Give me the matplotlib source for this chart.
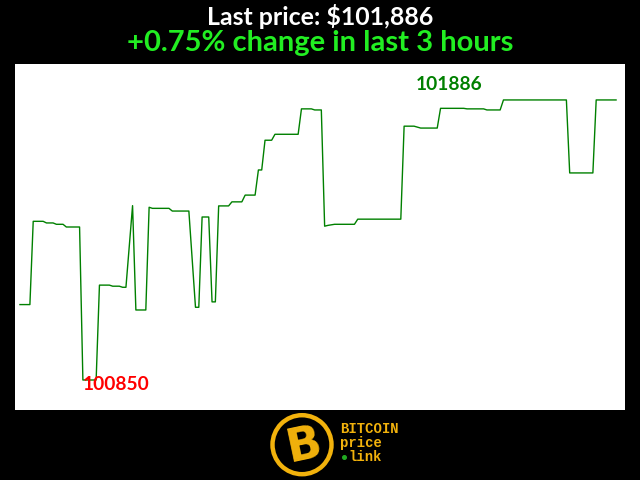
import matplotlib
matplotlib.use("Agg")
import matplotlib.pyplot as plt
from matplotlib.patches import Circle

# Data: minutes since start (last 3 hours) and BTC price at line vertices
minutes = [0, 3, 4, 7, 8, 10, 11, 13, 14, 18, 19, 23, 24, 27, 28, 30, 31, 32, 34, 35, 38,
           39, 40, 45, 46, 51, 53, 54, 55, 57, 58, 59, 60, 63, 64, 67, 68, 71, 72, 73, 74,
           76, 77, 84, 85, 88, 89, 91, 92, 93, 95, 101, 102, 115, 116, 119, 121, 126, 127,
           134, 135, 140, 141, 145, 146, 165, 166, 173, 174, 180]
prices = [101129, 101129, 101437, 101437, 101431, 101431, 101426, 101426, 101416, 101416,
          100850, 100850, 101201, 101201, 101197, 101197, 101193, 101193, 101495, 101109,
          101109, 101489, 101485, 101485, 101475, 101475, 101119, 101119, 101453, 101453,
          101139, 101139, 101494, 101494, 101509, 101509, 101534, 101534, 101627, 101627,
          101737, 101737, 101759, 101759, 101853, 101853, 101849, 101849, 101419, 101422,
          101426, 101426, 101445, 101445, 101789, 101789, 101782, 101782, 101855, 101855,
          101853, 101853, 101849, 101849, 101886, 101886, 101616, 101616, 101886, 101886]

last_price = 101886
pct_change = 0.75
min_price = 100850
max_price = 101886

FONT = ["Lato", "DejaVu Sans"]

fig = plt.figure(figsize=(6.4, 4.8), dpi=100, facecolor="black")
ax = fig.add_axes([15 / 640, 70 / 480, 610 / 640, 346 / 480])
ax.set_facecolor("white")
ax.plot(minutes, prices, color="#008000", linewidth=1.0)
ax.set_xlim(-1.5, 182.7)
ax.set_ylim(100739, 102019)
ax.set_xticks([])
ax.set_yticks([])
for s in ax.spines.values():
    s.set_visible(False)

# min / max labels
min_idx = prices.index(min_price)
ax.text(minutes[min_idx], min_price - 16, str(min_price), color="red", fontsize=13.8,
        fontweight="bold", family=FONT, ha="left", va="center")
ax.text(119.6, 101942, str(max_price), color="#008000", fontsize=13.8,
        fontweight="bold", family=FONT, ha="left", va="center")

# titles
fig.text(0.5, 1 - 16.5 / 480, f"Last price: ${last_price:,}", color="white",
         fontsize=17.9, fontweight="bold", family=FONT, ha="center", va="center")
fig.text(0.5, 1 - 43 / 480, f"+{pct_change:.2f}% change in last 3 hours", color="#22ee22",
         fontsize=21, fontweight="bold", family=FONT, ha="center", va="center")

# logo
gold = "#f2b20c"
lax = fig.add_axes([0, 0, 1, 1], facecolor="none")
lax.set_xlim(0, 640)
lax.set_ylim(480, 0)
lax.axis("off")
lax.add_patch(Circle((302, 444.7), 29.5, fill=False, edgecolor=gold, linewidth=3.2))
lax.text(304, 446, "B", color=gold, fontsize=33, fontweight="bold", family="DejaVu Sans",
         ha="center", va="center", rotation=12)
mono = ["Liberation Mono", "DejaVu Sans Mono"]
lax.text(340, 429, "BITCOIN", color=gold, fontsize=10, fontweight="bold",
         family=mono, ha="left", va="center")
lax.text(340, 443, "price", color=gold, fontsize=10, fontweight="bold",
         family=mono, ha="left", va="center")
lax.text(348.5, 457, "link", color=gold, fontsize=10, fontweight="bold",
         family=mono, ha="left", va="center")
lax.add_patch(Circle((344.5, 457.5), 1.8, color="#22aa22"))

fig.savefig("out.png", dpi=100, facecolor="black")
